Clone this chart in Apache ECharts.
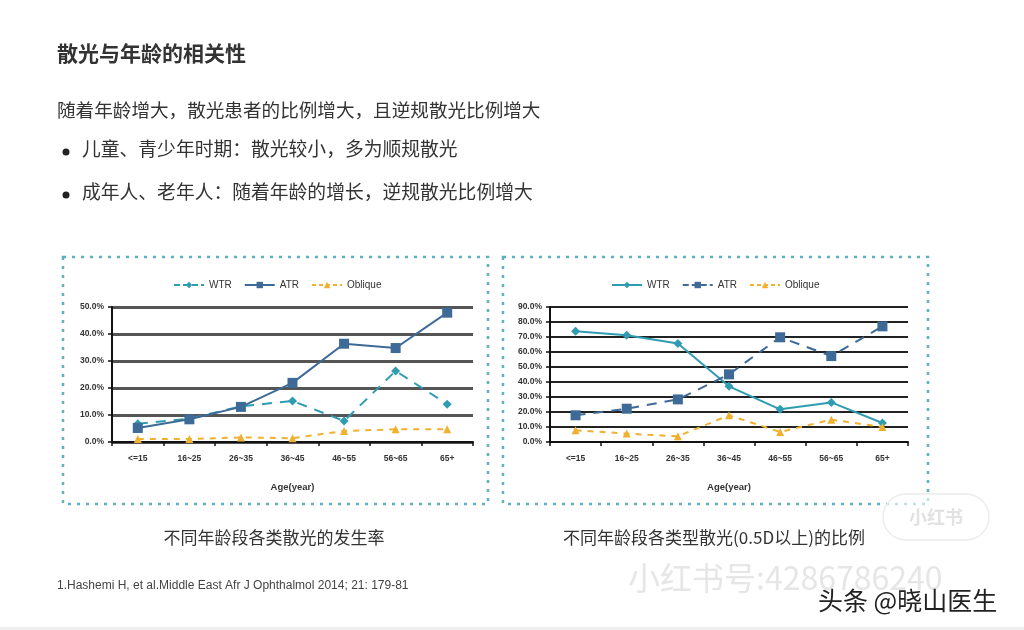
<!DOCTYPE html>
<html><head><meta charset="utf-8">
<script src="https://cdn.jsdelivr.net/npm/echarts@6/dist/echarts.min.js"></script>
<style>html,body{margin:0;padding:0;background:#fff}#c{width:1024px;height:630px}</style>
</head><body><div id="c"></div>
<script>
var categories = ['<=15', '16~25', '26~35', '36~45', '46~55', '56~65', '65+'];
var leftWTR = [6.8, 8.6, 13.2, 15.2, 7.8, 26.3, 14.0];
var leftATR = [5.2, 8.4, 13.0, 21.9, 36.4, 34.8, 47.9];
var leftOblique = [1.1, 1.1, 1.7, 1.4, 4.1, 4.7, 4.7];
var rightWTR = [73.8, 71.1, 65.6, 37.1, 21.8, 26.4, 12.7];
var rightATR = [17.8, 22.2, 28.4, 45.1, 69.8, 57.3, 77.1];
var rightOblique = [7.8, 5.6, 3.8, 17.8, 6.7, 14.9, 10.0];
var seriesNames = ['WTR', 'ATR', 'Oblique'];
var axisName = 'Age(year)';

var cWTR = '#2f9cb2', cATR = '#3d6a96', cObl = '#f0b030';
var FONT = '"Noto Sans CJK SC", "Noto Sans", sans-serif';
var pct = function (v) { return v.toFixed(1) + '%'; };

function xAxis(gi) {
  return {
    type: 'category', gridIndex: gi, data: categories, boundaryGap: true,
    name: axisName, nameLocation: 'middle', nameGap: 40,
    nameTextStyle: { fontSize: 9.5, color: '#333', fontWeight: 'bold', fontFamily: 'Arial' },
    axisLine: { lineStyle: { color: '#111', width: 2 } },
    axisTick: { show: true, length: 4, lineStyle: { color: '#111', width: 1.5 } },
    axisLabel: { fontSize: 8.5, color: '#333', fontWeight: 'bold', margin: 12, fontFamily: 'Arial' }
  };
}
function yAxis(gi, max, gridColor, gridWidth) {
  return {
    type: 'value', gridIndex: gi, min: 0, max: max, interval: 10,
    axisLine: { show: true, lineStyle: { color: '#111', width: 2 } },
    axisTick: { show: true, length: 4, lineStyle: { color: '#111', width: 1.5 } },
    axisLabel: { fontSize: 8.5, color: '#333', fontWeight: 'bold', margin: 8, formatter: pct, fontFamily: 'Arial' },
    splitLine: { show: true, lineStyle: { color: gridColor, width: gridWidth } }
  };
}
function ser(name, gi, data, color, type, symbol, size) {
  return {
    name: name, type: 'line', xAxisIndex: gi, yAxisIndex: gi, data: data,
    symbol: symbol, symbolSize: size,
    lineStyle: { color: color, width: 2, type: type },
    itemStyle: { color: color }, z: 3
  };
}
function legend(left, styles) {
  return {
    left: left, top: 275, itemWidth: 30, itemHeight: 8, itemGap: 12,
    textStyle: { fontSize: 10, color: '#333', fontFamily: 'Arial' },
    data: seriesNames.map(function (n, i) {
      return { name: n, lineStyle: { color: styles[i].color, type: styles[i].type, width: 2 },
               itemStyle: { color: styles[i].color } };
    })
  };
}

var chart = echarts.init(document.getElementById('c'), null, { renderer: 'canvas' });
var option = {
  backgroundColor: '#fff',
  animation: false,
  grid: [
    { left: 112, right: 551, top: 307, bottom: 188 },
    { left: 550, right: 116, top: 307, bottom: 188 }
  ],
  legend: [
    legend(168, [{ color: cWTR, type: [6, 3] }, { color: cATR, type: 'solid' }, { color: cObl, type: [4, 3] }]),
    legend(606, [{ color: cWTR, type: 'solid' }, { color: cATR, type: [6, 3] }, { color: cObl, type: [4, 3] }])
  ],
  xAxis: [xAxis(0), xAxis(1)],
  yAxis: [yAxis(0, 50, '#555', 3), yAxis(1, 90, '#222', 2)],
  series: [
    ser('WTR', 0, leftWTR, cWTR, [10, 8], 'diamond', 9),
    ser('ATR', 0, leftATR, cATR, 'solid', 'rect', 10),
    ser('Oblique', 0, leftOblique, cObl, [6, 6], 'triangle', 8),
    ser('WTR', 1, rightWTR, cWTR, 'solid', 'diamond', 9),
    ser('ATR', 1, rightATR, cATR, [10, 8], 'rect', 10),
    ser('Oblique', 1, rightOblique, cObl, [6, 6], 'triangle', 8)
  ],
  graphic: [
    { type: 'rect', shape: { x: 0, y: 627, width: 1024, height: 3 }, style: { fill: '#f0f0f0' } },
    { type: 'rect', shape: { x: 63, y: 257, width: 425, height: 247 },
      style: { fill: 'none', stroke: '#5fb0c0', lineWidth: 2.5, lineDash: [3, 6] } },
    { type: 'rect', shape: { x: 503, y: 257, width: 425, height: 247 },
      style: { fill: 'none', stroke: '#5fb0c0', lineWidth: 2.5, lineDash: [3, 6] } },
    { type: 'text', left: 57, top: 43, style: { text: '散光与年龄的相关性', fontSize: 21, fontWeight: 'bold', fill: '#333', fontFamily: FONT } },
    { type: 'text', left: 57, top: 101, style: { text: '随着年龄增大，散光患者的比例增大，且逆规散光比例增大', fontSize: 18.6, fill: '#333', fontFamily: FONT } },
    { type: 'circle', shape: { cx: 66, cy: 152, r: 3.5 }, style: { fill: '#222' } },
    { type: 'text', left: 82, top: 139, style: { text: '儿童、青少年时期：散光较小，多为顺规散光', fontSize: 18.8, fill: '#333', fontFamily: FONT } },
    { type: 'circle', shape: { cx: 66, cy: 195, r: 3.5 }, style: { fill: '#222' } },
    { type: 'text', left: 82, top: 182, style: { text: '成年人、老年人：随着年龄的增长，逆规散光比例增大', fontSize: 18.8, fill: '#333', fontFamily: FONT } },
    { type: 'text', x: 274, y: 538, style: { text: '不同年龄段各类散光的发生率', fontSize: 17, fill: '#333', align: 'center', verticalAlign: 'middle', fontFamily: FONT } },
    { type: 'text', x: 714, y: 538, style: { text: '不同年龄段各类型散光(0.5D以上)的比例', fontSize: 17, fill: '#333', align: 'center', verticalAlign: 'middle', fontFamily: FONT } },
    { type: 'text', x: 57, y: 586, style: { text: '1.Hashemi H, et al.Middle East Afr J Ophthalmol 2014; 21: 179-81', fontSize: 12, fill: '#444', verticalAlign: 'middle', fontFamily: 'Arial' } },
    { type: 'rect', shape: { x: 883, y: 494, width: 106, height: 46, r: 23 },
      style: { fill: 'rgba(255,255,255,0.6)', stroke: '#ececec', lineWidth: 1.5 } },
    { type: 'text', x: 936, y: 517, style: { text: '小红书', fontSize: 18, fill: '#e2e2e2', fontWeight: 'bold', align: 'center', verticalAlign: 'middle', fontFamily: FONT } },
    { type: 'text', x: 628, y: 578, style: { text: '小红书号:4286786240', fontSize: 32, fill: '#e6e6e6', verticalAlign: 'middle', fontFamily: FONT } },
    { type: 'text', x: 818, y: 600, style: { text: '头条 @晓山医生', fontSize: 25, fill: '#222', verticalAlign: 'middle', fontFamily: FONT } }
  ]
};
chart.setOption(option);
</script>
</body></html>
